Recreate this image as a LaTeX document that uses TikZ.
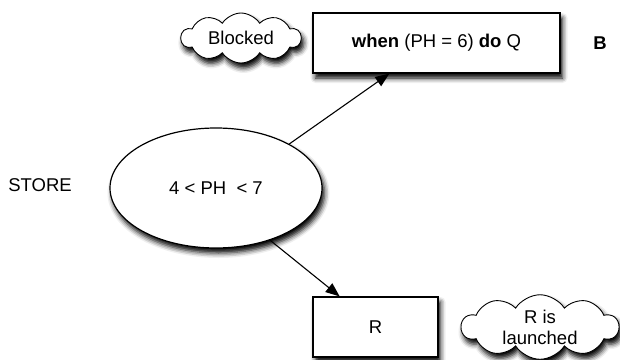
\documentclass[tikz,border=0pt]{standalone}
\usepackage{fontspec}
\setmainfont{Liberation Sans}
\usetikzlibrary{shapes.geometric,shapes.symbols,shadows.blur,arrows.meta,calc}
\begin{document}
\begin{tikzpicture}[x=1pt,y=-1pt,
  every node/.style={font=\fontsize{18.5}{21}\selectfont},
  shad/.style={blur shadow={shadow xshift=2.5pt,shadow yshift=-5pt,shadow blur radius=5pt,shadow opacity=100}},
  boxnode/.style={draw,line width=1.2pt,fill=white,shad,inner sep=0pt},
  ellnode/.style={ellipse,draw,line width=1.2pt,fill=white,shad,inner sep=0pt},
  cloudnode/.style={cloud,cloud puffs=10,cloud puff arc=115,cloud ignores aspect,draw,line width=0.9pt,fill=white,shad,inner sep=0pt,align=center},
  conn/.style={line width=1.1pt,-{Triangle[length=14pt,width=11pt]}}]
\useasboundingbox (0,0) rectangle (620,359);
\node[boxnode,minimum width=247pt,minimum height=60pt] (top) at (436.5,43) {\textbf{when} (PH = 6) \textbf{do} Q};
\node[cloudnode,minimum width=120pt,minimum height=50pt] (blocked) at (241,38) {Blocked};
\node[font=\fontsize{18.5}{21}\selectfont\bfseries] (b) at (600,43) {B};
\node (store) at (40,185) {STORE};
\node[ellnode,minimum width=212pt,minimum height=120pt] (ell) at (216,188) {4 < PH\ \ < 7};
\node[boxnode,minimum width=125pt,minimum height=60pt] (r) at (375.5,327) {R};
\node[cloudnode,minimum width=157pt,minimum height=58pt] (launch) at (540,327) {R is\\launched};
\draw[conn] (ell.31) -- ($(top.south west)!0.31!(top.south east)$);
\draw[conn] (ell.-44) -- ($(r.north west)!0.216!(r.north east)$);
\end{tikzpicture}
\end{document}
